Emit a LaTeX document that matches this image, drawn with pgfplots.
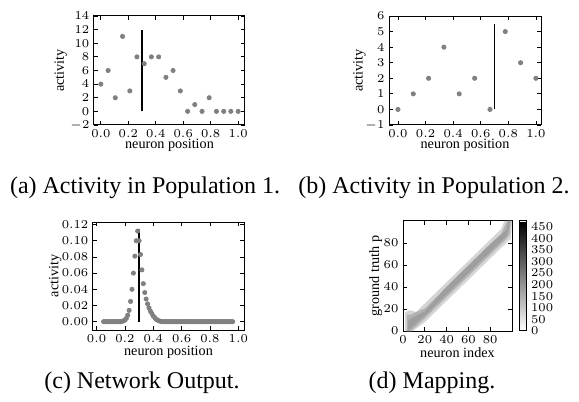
\documentclass[border=0pt]{standalone}
\usepackage{fontspec}
\setmainfont{Liberation Serif}
\usepackage{pgfplots}
\pgfplotsset{compat=1.18}
\definecolor{dotgray}{HTML}{808080}

\pgfplotsset{
  panel/.style={
    scale only axis,
    anchor=south west,
    axis line style={line width=0.5pt},
    tick align=inside, tick pos=both,
    major tick length=2pt,
    tick style={black, line width=0.4pt},
    tick label style={font=\fontsize{6}{7}\selectfont},
    yticklabel style={xshift=1.2pt},
    xticklabel style={yshift=1pt},
    label style={font=\fontsize{7.1}{8}\selectfont},
    xlabel={neuron position}, ylabel={activity},
    scaled ticks=false,
  },
  xl/.style={xlabel style={at={(axis description cs:0.5,#1)}, anchor=center}},
  yl/.style={ylabel style={at={(axis description cs:#1,0.5)}, anchor=center}},
  dots/.style={only marks, mark=*, mark size=1.05pt, color=dotgray},
  marker/.style={black, line width=0.6pt},
}

\begin{document}
\begin{tikzpicture}
\useasboundingbox (0,0) rectangle (289.5pt,201pt);

% (a) population 1
\begin{axis}[panel, at={(47pt,138.5pt)}, width=75.5pt, height=54.5pt,
  xl=-0.19, yl=-0.22,
  xmin=-0.05, xmax=1.05, ymin=-2, ymax=14,
  xtick={0,0.2,0.4,0.6,0.8,1}, ytick={-2,0,...,14},
  xticklabel style={/pgf/number format/.cd,fixed,fixed zerofill,precision=1}]
\addplot[dots] coordinates {
  (0,4) (0.053,6) (0.105,2) (0.158,11) (0.211,3) (0.263,8) (0.316,7)
  (0.368,8) (0.421,8) (0.474,5) (0.526,6) (0.579,3) (0.632,0) (0.684,1)
  (0.737,0) (0.789,2) (0.842,0) (0.895,0) (0.947,0) (1,0)};
\addplot[marker] coordinates {(0.3,0) (0.3,12)};
\end{axis}

% (b) population 2
\begin{axis}[panel, at={(194.5pt,138.5pt)}, width=76pt, height=54.5pt,
  xl=-0.19, yl=-0.195,
  xmin=-0.065, xmax=1.037, ymin=-1, ymax=6,
  xtick={0,0.2,0.4,0.6,0.8,1}, ytick={-1,0,...,6},
  xticklabel style={/pgf/number format/.cd,fixed,fixed zerofill,precision=1}]
\addplot[dots] coordinates {
  (0,0) (0.111,1) (0.222,2) (0.333,4) (0.444,1) (0.556,2) (0.667,0)
  (0.778,5) (0.889,3) (1,2)};
\addplot[marker] coordinates {(0.7,0) (0.7,5.5)};
\end{axis}

% (c) network output
\begin{axis}[panel, at={(46.5pt,36pt)}, width=75.5pt, height=54pt,
  xl=-0.206, yl=-0.25,
  xmin=-0.025, xmax=1.04, ymin=-0.0103, ymax=0.1232,
  xtick={0,0.2,0.4,0.6,0.8,1}, ytick={0,0.02,0.04,0.06,0.08,0.1,0.12},
  xticklabel style={/pgf/number format/.cd,fixed,fixed zerofill,precision=1},
  yticklabel style={/pgf/number format/.cd,fixed,fixed zerofill,precision=2}]
\addplot[dots] coordinates {
  (0.05,0) (0.06,0) (0.07,0) (0.08,0) (0.09,0) (0.10,0) (0.11,0) (0.12,0)
  (0.13,0) (0.14,0) (0.15,0) (0.16,0) (0.17,0) (0.18,0.0005) (0.19,0.001)
  (0.20,0.002) (0.21,0.004) (0.22,0.008) (0.23,0.014) (0.24,0.025)
  (0.25,0.040) (0.26,0.060) (0.27,0.081) (0.28,0.100) (0.29,0.112)
  (0.30,0.100) (0.31,0.083) (0.32,0.064) (0.33,0.047) (0.34,0.036)
  (0.35,0.028) (0.36,0.022) (0.37,0.017) (0.38,0.013) (0.39,0.010)
  (0.40,0.007) (0.41,0.005) (0.42,0.003) (0.43,0.002) (0.44,0.001)
  (0.45,0.0005) (0.46,0) (0.47,0) (0.48,0) (0.49,0) (0.50,0) (0.51,0)
  (0.52,0) (0.53,0) (0.54,0) (0.55,0) (0.56,0) (0.57,0) (0.58,0) (0.59,0)
  (0.60,0) (0.61,0) (0.62,0) (0.63,0) (0.64,0) (0.65,0) (0.66,0) (0.67,0)
  (0.68,0) (0.69,0) (0.70,0) (0.71,0) (0.72,0) (0.73,0) (0.74,0) (0.75,0)
  (0.76,0) (0.77,0) (0.78,0) (0.79,0) (0.80,0) (0.81,0) (0.82,0) (0.83,0)
  (0.84,0) (0.85,0) (0.86,0) (0.87,0) (0.88,0) (0.89,0) (0.90,0) (0.91,0)
  (0.92,0) (0.93,0) (0.94,0) (0.95,0) (0.96,0)};
\addplot[marker] coordinates {(0.3,0) (0.3,0.114)};
\end{axis}

% (d) mapping
\begin{axis}[panel, at={(201.5pt,35.5pt)}, width=54.5pt, height=55pt,
  xl=-0.194, yl=-0.25,
  xmin=0, xmax=100, ymin=0, ymax=100,
  xtick={0,20,...,80}, ytick={0,20,...,80},
  xlabel={neuron index}, ylabel={ground truth p},
  colorbar, colormap={bw}{gray(0cm)=(1); gray(1cm)=(0)},
  point meta min=0, point meta max=475,
  colorbar style={at={(parent axis.north east)}, anchor=north west,
    xshift=-5pt, width=3.5pt, ytick={0,50,...,450},
    major tick length=0pt, ytick style={draw=none},
    axis line style={line width=0.5pt},
    yticklabel style={font=\fontsize{6}{7}\selectfont, xshift=-1pt}}]
\addplot[fill=gray!33, draw=none] coordinates {
  (2,0) (9,0) (20,8) (40,27.3) (60,46.6) (80,65.9) (95,80.4) (99,84) (100,100)
  (93,100) (90,92.6) (70,73.3) (50,54) (30,34.7) (12,17.3) (6,19) (2,17)} -- cycle;
\addplot[fill=gray!60, draw=none] coordinates {
  (3.5,0) (7.5,0) (20,11.5) (40,30.8) (60,50.1) (80,69.4) (95,83.9) (98,88) (99,100)
  (95.5,100) (90,88.1) (70,68.8) (50,49.5) (30,30.2) (20,20.5) (7,15) (3.5,15)} -- cycle;
\addplot[fill=gray!76, draw=none] coordinates {
  (4.5,0) (6.5,2) (20,14) (40,33.3) (60,52.6) (80,71.9) (95,86.4) (97,93) (97.8,100)
  (96.5,100) (95,92) (80,79) (60,59.6) (40,40.3) (20,18) (6.5,11) (4.5,9)} -- cycle;
\end{axis}

\node[font=\fontsize{12}{14}\selectfont] at (72.5pt,107pt) {(a) Activity in Population 1.};
\node[font=\fontsize{12}{14}\selectfont] at (217pt,107pt) {(b) Activity in Population 2.};
\node[font=\fontsize{12}{14}\selectfont] at (71pt,9.5pt) {(c) Network Output.};
\node[font=\fontsize{12}{14}\selectfont] at (216pt,9.5pt) {(d) Mapping.};
\end{tikzpicture}
\end{document}
